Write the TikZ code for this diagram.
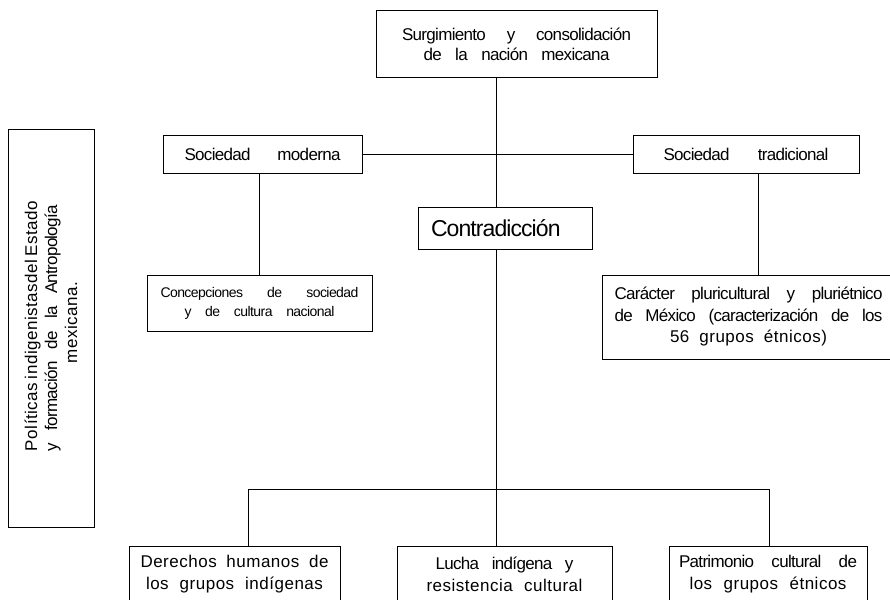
\documentclass[tikz,border=0pt]{standalone}
\usepackage{fontspec}
\setmainfont{Liberation Sans}
\newcommand{\apretado}[2]{\makebox[#1][s]{\addfontfeatures{LetterSpace=-4}#2}}
\newcommand{\ancho}[2]{\makebox[#1][s]{\addfontfeatures{LetterSpace=3}#2}}
\begin{document}
\begin{tikzpicture}[x=1pt,y=-1pt,
    caja/.style={draw, line width=1pt, inner sep=0pt, align=center},
    texto/.style={font=\fontsize{17}{20}\selectfont},
    linea/.style={line width=1pt}]
  \useasboundingbox[fill=white] (0,0) rectangle (890,599);

  % cajas superiores
  \node[caja, texto, minimum width=281, minimum height=67] (origen) at (516.5,44.5)
    {\apretado{229pt}{Surgimiento y consolidación}\\\apretado{186pt}{de la nación mexicana}};
  \node[caja, texto, minimum width=199, minimum height=38] (moderna) at (262.5,154)
    {\apretado{156pt}{Sociedad moderna}};
  \node[caja, texto, minimum width=226, minimum height=38] (tradicional) at (746,154)
    {\apretado{165pt}{Sociedad tradicional}};
  \node[caja, font=\fontsize{23}{26}\selectfont, minimum width=174, minimum height=42] (contra) at (505,228)
    {\apretado{128pt}{Contradicción}\hspace*{20pt}};

  % cajas intermedias
  \node[caja, font=\fontsize{14}{19}\selectfont, minimum width=225, minimum height=56] (concep) at (259.5,303)
    {\apretado{198pt}{Concepciones de sociedad}\\\apretado{150pt}{y de cultura nacional}};
  \node[caja, font=\fontsize{17}{21.5}\selectfont, minimum width=293, minimum height=84] (caracter) at (748.5,317)
    {\apretado{268pt}{Carácter pluricultural y pluriétnico}\\\apretado{268pt}{de México (caracterización de los}\\\ancho{157pt}{56 grupos étnicos)}};

  % cajas inferiores
  \node[caja, font=\fontsize{17}{22}\selectfont, minimum width=211, minimum height=56] (derechos) at (234.5,574)
    {\ancho{188pt}{Derechos humanos de}\\\ancho{177pt}{los grupos indígenas}};
  \node[caja, font=\fontsize{17}{22}\selectfont, minimum width=215, minimum height=56] (lucha) at (504.5,574)
    {\apretado{138pt}{Lucha indígena y}\\\ancho{156pt}{resistencia cultural}};
  \node[caja, font=\fontsize{17}{22}\selectfont, minimum width=198, minimum height=56] (patrimonio) at (768,574)
    {\apretado{178pt}{Patrimonio cultural de}\\\ancho{157pt}{los grupos étnicos}};

  % caja lateral
  \node[caja, font=\fontsize{17}{20}\selectfont, rotate=90, minimum width=398, minimum height=86] (politicas) at (51,328)
    {\ancho{246pt}{Políticas indigenistasdel Estado}\\\apretado{246pt}{y formación de la Antropología}\\\ancho{70pt}{mexicana.}};

  % ejes
  \coordinate (eje) at (496,0);
  \coordinate (ramaD) at (758,0);
  \coordinate (bI) at (248,489);
  \coordinate (bD) at (769,489);

  \draw[linea] (origen.south -| eje) -- (contra.north -| eje);
  \draw[linea] (moderna.east) -- (tradicional.west);
  \draw[linea] (concep.north |- moderna.south) -- (concep.north);
  \draw[linea] (tradicional.south -| ramaD) -- (caracter.north -| ramaD);
  \draw[linea] (contra.south -| eje) -- (eje |- bI);
  \draw[linea] (bI) -- (bD);
  \draw[linea] (bI) -- (bI |- derechos.north);
  \draw[linea] (eje |- bI) -- (lucha.north -| eje);
  \draw[linea] (bD) -- (bD |- patrimonio.north);
\end{tikzpicture}
\end{document}
